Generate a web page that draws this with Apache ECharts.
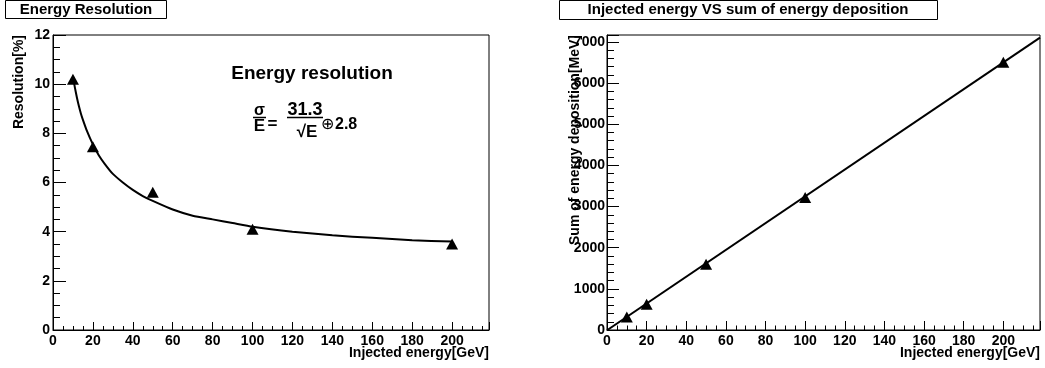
<!DOCTYPE html>
<html>
<head>
<meta charset="utf-8">
<script src="https://cdn.jsdelivr.net/npm/echarts@6/dist/echarts.min.js"></script>
<style>
  html, body { margin: 0; padding: 0; background: #fff; }
  #main { width: 1045px; height: 368px; }
</style>
</head>
<body>
<div id="main"></div>
<script>
// measured points, resolution plot
const resEnergy = [10, 20, 50, 100, 200];
const resValue = [10.2, 7.45, 5.6, 4.1, 3.5];
// fit curve
const resFitEnergy = [10, 11, 12, 13, 14, 15, 17, 20, 23, 26, 30, 35, 40, 45, 50,
  60, 70, 80, 90, 100, 120, 140, 160, 180, 200];
const resFitValue = [10.3, 9.85, 9.45, 9.1, 8.8, 8.55, 8.1, 7.55, 7.1, 6.75, 6.35, 6.0, 5.7, 5.45, 5.25,
  4.9, 4.65, 4.5, 4.35, 4.2, 4.0, 3.85, 3.75, 3.65, 3.6];

// measured points, deposition plot
const depEnergy = [10, 20, 50, 100, 200];
const depValue = [315, 625, 1600, 3220, 6505];
// fitted straight line end points
const depFitEnergy = [0, 218.5];
const depFitValue = [-5, 7105];

const xTicks = [0, 20, 40, 60, 80, 100, 120, 140, 160, 180, 200];
const resTicks = [0, 2, 4, 6, 8, 10, 12];
const depTicks = [0, 1000, 2000, 3000, 4000, 5000, 6000, 7000];

const FONT = "'Liberation Sans', Arial, Helvetica, sans-serif";

const zip = (a, b) => a.map((v, i) => [v, b[i]]);

const MyChart = echarts.init(document.getElementById('main'));

const labelFmt = (ticks) => (v) => (ticks.indexOf(v) >= 0 ? String(v) : '');

// main axis with labels
function mainAxis(gridIndex, max, interval, tickLen, margin, ticks, pos) {
  return {
    type: 'value',
    gridIndex: gridIndex,
    position: pos,
    min: 0,
    max: max,
    interval: interval,
    axisLine: { show: true, lineStyle: { color: '#000', width: 1 } },
    axisTick: { show: true, inside: true, length: tickLen, lineStyle: { color: '#000', width: 1 } },
    axisLabel: {
      show: true, margin: margin, color: '#000', fontFamily: FONT, fontWeight: 'bold', fontSize: 14,
      formatter: labelFmt(ticks)
    },
    splitLine: { show: false }
  };
}

// second axis, only for the small ticks
function minorAxis(gridIndex, max, interval, tickLen, pos) {
  return {
    type: 'value',
    gridIndex: gridIndex,
    position: pos,
    min: 0,
    max: max,
    interval: interval,
    axisLine: { show: false },
    axisTick: { show: true, inside: true, length: tickLen, lineStyle: { color: '#000', width: 1 } },
    axisLabel: { show: false },
    splitLine: { show: false }
  };
}

function txt(x, y, text, font, align, rot) {
  return {
    type: 'text', x: x, y: y, rotation: rot || 0,
    style: { text: text, font: font, fill: '#000', textAlign: align || 'center', textVerticalAlign: 'middle' }
  };
}

let option = {
  animation: false,
  backgroundColor: '#fff',
  grid: [
    { left: 53, top: 35, width: 436, height: 295, show: true, borderColor: '#000', borderWidth: 1 },
    { left: 607, top: 35, width: 433, height: 295, show: true, borderColor: '#000', borderWidth: 1 }
  ],
  xAxis: [
    mainAxis(0, 218.5, 20, 8, 4, xTicks, 'bottom'),
    minorAxis(0, 218.5, 5, 4, 'bottom'),
    mainAxis(1, 218.5, 20, 9, 4, xTicks, 'bottom'),
    minorAxis(1, 218.5, 5, 4.5, 'bottom')
  ],
  yAxis: [
    mainAxis(0, 12, 2, 13, 3, resTicks, 'left'),
    minorAxis(0, 12, 0.5, 7, 'left'),
    mainAxis(1, 7170, 1000, 12, 2, depTicks, 'left'),
    minorAxis(1, 7170, 200, 7, 'left')
  ],
  series: [
    {
      type: 'line', xAxisIndex: 0, yAxisIndex: 0,
      data: zip(resFitEnergy, resFitValue),
      smooth: 0.2, showSymbol: false, symbol: 'none',
      lineStyle: { color: '#000', width: 2 }, z: 3
    },
    {
      type: 'scatter', xAxisIndex: 0, yAxisIndex: 0,
      data: zip(resEnergy, resValue),
      symbol: 'triangle', symbolSize: [12, 11],
      itemStyle: { color: '#000', opacity: 1 }, z: 4
    },
    {
      type: 'line', xAxisIndex: 2, yAxisIndex: 2,
      data: zip(depFitEnergy, depFitValue),
      showSymbol: false, symbol: 'none', clip: true,
      lineStyle: { color: '#000', width: 2 }, z: 3
    },
    {
      type: 'scatter', xAxisIndex: 2, yAxisIndex: 2,
      data: zip(depEnergy, depValue),
      symbol: 'triangle', symbolSize: [12, 11],
      itemStyle: { color: '#000', opacity: 1 }, z: 4
    }
  ],
  graphic: [
    // title boxes
    { type: 'rect', shape: { x: 5.5, y: 0.5, width: 161, height: 18 },
      style: { fill: '#fff', stroke: '#000', lineWidth: 1 } },
    txt(86, 10, 'Energy Resolution', 'bold 15px ' + FONT),
    { type: 'rect', shape: { x: 559.5, y: 0.5, width: 378, height: 19 },
      style: { fill: '#fff', stroke: '#000', lineWidth: 1 } },
    txt(748, 10, 'Injected energy VS sum of energy deposition', 'bold 15px ' + FONT),

    // axis titles
    txt(489, 353, 'Injected energy[GeV]', 'bold 14px ' + FONT, 'right'),
    txt(1040, 353, 'Injected energy[GeV]', 'bold 14px ' + FONT, 'right'),
    txt(19, 35, 'Resolution[%]', 'bold 14px ' + FONT, 'right', Math.PI / 2),
    txt(575, 35, 'Sum of energy deposition[MeV]', 'bold 14px ' + FONT, 'right', Math.PI / 2),

    // annotation
    txt(312, 74, 'Energy resolution', 'bold 19px ' + FONT),
    txt(259.5, 111, 'σ', 'bold 16px ' + FONT),
    { type: 'line', shape: { x1: 253, y1: 117.5, x2: 266, y2: 117.5 },
      style: { stroke: '#000', lineWidth: 1.5 } },
    txt(259.5, 126.5, 'E', 'bold 17px ' + FONT),
    txt(272.5, 124, '=', 'bold 17px ' + FONT),
    txt(305, 110, '31.3', 'bold 18px ' + FONT),
    { type: 'line', shape: { x1: 287, y1: 117.5, x2: 323, y2: 117.5 },
      style: { stroke: '#000', lineWidth: 1.5 } },
    txt(307, 132, '√E', 'bold 17px ' + FONT),
    txt(327.5, 124.5, '⊕', '16px ' + FONT),
    txt(335, 125, '2.8', 'bold 16px ' + FONT, 'left')
  ]
};

MyChart.setOption(option);
</script>
</body>
</html>
